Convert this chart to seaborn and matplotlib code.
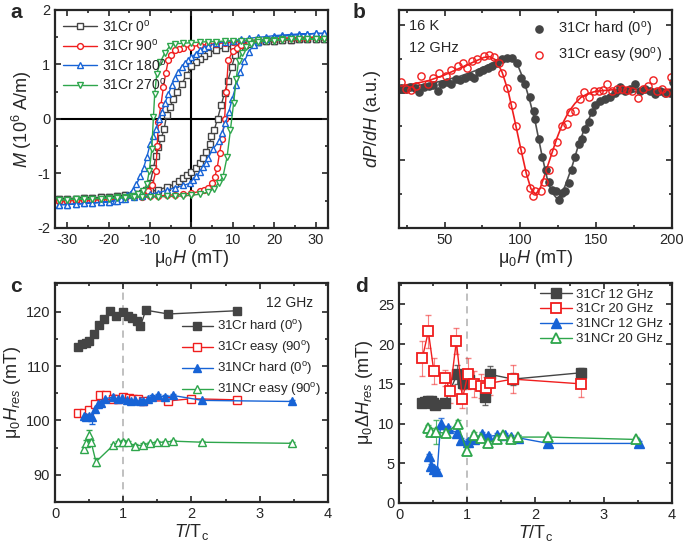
import numpy as np
import matplotlib
matplotlib.use("Agg")
import matplotlib.pyplot as plt
from matplotlib.ticker import MultipleLocator, NullFormatter
import seaborn as sns

sns.set_style("ticks")
plt.rcParams['font.family'] = ['Liberation Sans', 'DejaVu Sans']
plt.rcParams['mathtext.fontset'] = 'custom'
plt.rcParams['mathtext.rm'] = 'Liberation Sans'
plt.rcParams['mathtext.it'] = 'Liberation Sans:italic'
plt.rcParams['mathtext.bf'] = 'Liberation Sans:bold'
plt.rcParams['axes.unicode_minus'] = False

GRAY = "#444444"
RED = "#f01e1e"
BLUE = "#1763d6"
GREEN = "#2ea64c"

# ---------------- panel a : hysteresis loops ----------------
H0_down = [32, 30, 28, 26, 24, 22, 20, 18, 16, 14, 12, 10, 8, 6, 4, 3, 2, 1, 0, -1.2, -2.4, -3.6, -4.4, -5.2,
           -6, -6.6, -7.3, -8, -8.6, -9.2, -10, -11, -12, -14, -16, -18, -20, -22, -24, -26, -28, -30, -32]
M0_down = [1.47, 1.47, 1.46, 1.46, 1.45, 1.45, 1.44, 1.43, 1.42, 1.40, 1.37, 1.34, 1.31, 1.27, 1.21, 1.16, 1.10,
           1.04, 0.97, 0.80, 0.64, 0.50, 0.36, 0.22, 0.08, -0.18, -0.35, -0.52, -0.68, -0.90, -1.18, -1.30, -1.35,
           -1.38, -1.40, -1.42, -1.43, -1.44, -1.45, -1.45, -1.46, -1.46, -1.47]
H0_up = [-32, -30, -28, -26, -24, -22, -20, -18, -16, -14, -12, -10, -8, -6, -4, -3, -2, -1, 0, 1, 2, 2.8, 3.6,
         4.4, 4.8, 5.5, 6.3, 7.2, 8, 8.8, 9.7, 10.6, 11.5, 13, 14, 16, 18, 20, 22, 24, 26, 28, 30, 32]
M0_up = [-1.47, -1.46, -1.46, -1.45, -1.45, -1.44, -1.43, -1.42, -1.40, -1.38, -1.36, -1.33, -1.30, -1.25, -1.19,
         -1.14, -1.08, -1.02, -0.98, -0.90, -0.80, -0.72, -0.60, -0.45, -0.32, -0.20, 0.0, 0.26, 0.48, 0.70, 0.95,
         1.18, 1.30, 1.36, 1.37, 1.41, 1.43, 1.44, 1.45, 1.45, 1.46, 1.46, 1.47, 1.47]

H90_down = [32, 30, 28, 26, 24, 22, 20, 18, 16, 14, 12, 10, 8, 6, 4, 2, 0, -2, -3, -4, -5, -5.6, -6.2, -6.8, -7.4,
            -8, -8.3, -8.6, -9.5, -10.6, -12, -14, -16, -18, -20, -22, -24, -26, -28, -30, -32]
M90_down = [1.50, 1.50, 1.49, 1.49, 1.48, 1.48, 1.47, 1.46, 1.45, 1.44, 1.43, 1.41, 1.40, 1.38, 1.37, 1.35, 1.33,
            1.31, 1.29, 1.26, 1.18, 1.08, 0.85, 0.58, 0.25, -0.05, -0.50, -0.96, -1.22, -1.33, -1.38, -1.42, -1.44,
            -1.46, -1.47, -1.48, -1.48, -1.49, -1.49, -1.50, -1.50]
H90_up = [-32, -30, -28, -26, -24, -22, -20, -18, -16, -14, -12, -10, -8, -6, -4, -2, 0, 2, 3, 4, 5, 5.6, 6.2,
          6.8, 7.4, 8, 8.4, 8.9, 10, 11, 12, 14, 16, 18, 20, 22, 24, 26, 28, 30, 32]
M90_up = [-1.50, -1.50, -1.49, -1.49, -1.48, -1.48, -1.47, -1.46, -1.45, -1.44, -1.43, -1.42, -1.41, -1.40, -1.39,
          -1.38, -1.36, -1.33, -1.30, -1.26, -1.18, -1.07, -0.90, -0.62, -0.36, 0.0, 0.50, 1.08, 1.25, 1.31, 1.36,
          1.41, 1.44, 1.46, 1.47, 1.48, 1.48, 1.49, 1.49, 1.50, 1.50]

H180_down = [32, 30, 28, 26, 24, 22, 20, 18, 16, 14, 12, 10, 8, 6, 4, 3, 2, 1, 0, -0.8, -1.6, -2.4, -3.2, -4, -4.8,
             -5.6, -6.4, -7.2, -7.8, -8.6, -9.3, -10, -10.8, -11.6, -12.4, -13.3, -14.2, -15.5, -17, -18.5, -20,
             -22, -24, -26, -28, -30, -32]
M180_down = [1.57, 1.57, 1.56, 1.56, 1.55, 1.54, 1.53, 1.51, 1.50, 1.48, 1.46, 1.44, 1.42, 1.39, 1.34, 1.30, 1.27,
             1.20, 1.13, 1.08, 1.03, 0.95, 0.86, 0.75, 0.62, 0.45, 0.30, 0.12, 0.0, -0.18, -0.32, -0.46, -0.70,
             -0.90, -1.05, -1.20, -1.30, -1.40, -1.46, -1.50, -1.52, -1.53, -1.54, -1.55, -1.56, -1.57, -1.57]
H180_up = [-32, -30, -28, -26, -24, -22, -20, -18, -16, -14, -12, -10, -8, -6, -4, -2, -0.4, 0.4, 1.2, 2, 2.8, 3.4,
           4, 5.2, 6.6, 7.4, 8.2, 9, 9.8, 10.8, 11.8, 12.8, 13.8, 15, 16, 18, 20, 22, 24, 26, 28, 30, 32]
M180_up = [-1.57, -1.57, -1.56, -1.55, -1.54, -1.53, -1.52, -1.50, -1.47, -1.44, -1.41, -1.38, -1.35, -1.31, -1.26,
           -1.22, -1.18, -1.12, -1.05, -0.97, -0.88, -0.80, -0.71, -0.55, -0.41, -0.25, -0.08, 0.12, 0.36, 0.62,
           0.86, 1.06, 1.23, 1.35, 1.42, 1.47, 1.50, 1.52, 1.53, 1.55, 1.56, 1.57, 1.57]

H270_down = [32, 30, 28, 26, 24, 22, 20, 18, 16, 14, 12, 10, 8, 6, 4, 2, 0, -2, -4, -5.2, -6.4, -7.5, -8.4, -8.9,
             -9.2, -9.6, -10.2, -10.8, -11.8, -13, -14.5, -16, -18, -20, -22, -24, -26, -28, -30, -32]
M270_down = [1.47, 1.47, 1.47, 1.46, 1.46, 1.46, 1.45, 1.45, 1.45, 1.44, 1.44, 1.43, 1.43, 1.42, 1.42, 1.41, 1.40,
             1.39, 1.38, 1.34, 1.22, 1.05, 0.83, 0.45, 0.04, -0.55, -0.95, -1.20, -1.33, -1.38, -1.41, -1.43, -1.44,
             -1.45, -1.46, -1.46, -1.47, -1.47, -1.48, -1.48]
H270_up = [-32, -30, -28, -26, -24, -22, -20, -18, -16, -14, -12, -10, -8, -6, -4, -2, 0, 2, 4, 5.4, 6.6, 7.6,
           8.6, 9.4, 10.2, 10.8, 11.4, 12.2, 13.2, 14.5, 16, 18, 20, 22, 24, 26, 28, 30, 32]
M270_up = [-1.48, -1.48, -1.47, -1.47, -1.46, -1.46, -1.46, -1.45, -1.45, -1.44, -1.44, -1.43, -1.43, -1.42, -1.42,
           -1.41, -1.40, -1.38, -1.34, -1.28, -1.17, -1.06, -0.70, -0.21, 0.30, 0.73, 1.07, 1.22, 1.33, 1.38, 1.41,
           1.43, 1.44, 1.45, 1.46, 1.46, 1.47, 1.47, 1.47]

# ---------------- panel b : FMR spectra (16 K, 12 GHz) ----------------
H_hard = [21.3, 24.5, 27.5, 30.5, 33.5, 36.5, 39.5, 42.5, 45.5, 48.5, 51.5, 54.5, 57.5, 60.5, 63.5, 66.5, 69.5,
          72.5, 75.5, 78.5, 81.5, 84.8, 88.1, 91.4, 94.7, 98.0, 100.2, 103.4, 106.7, 108.9, 110.0, 112.2, 114.4,
          116.6, 118.8, 121.0, 123.2, 125.3, 127.6, 129.7, 131.9, 134.1, 136.3, 138.5, 140.8, 142.9, 145.1, 147.4,
          149.5, 152.8, 156.1, 159.3, 162.6, 165.9, 169.2, 172.4, 175.6, 178.9, 182.3, 185.5, 188.8, 192.0,
          195.2, 198.4, 200.9]
P_hard = [0.07, 0.06, 0.08, 0.07, 0.01, 0.08, 0.10, 0.11, 0.02, 0.13, 0.16, 0.12, 0.20, 0.18, 0.22, 0.25, 0.22,
          0.30, 0.33, 0.37, 0.40, 0.44, 0.50, 0.51, 0.51, 0.44, 0.22, 0.12, -0.07, -0.27, -0.39, -0.68, -0.95,
          -1.15, -1.32, -1.44, -1.45, -1.59, -1.49, -1.46, -1.34, -1.15, -0.95, -0.76, -0.68, -0.54, -0.44, -0.29,
          -0.19, -0.12, -0.10, -0.06, -0.01, 0.08, 0.02, 0.06, 0.12, 0.02, 0.06, 0.03, -0.02, 0.02, -0.01, 0.0, 0.15]
H_easy = [21.3, 24.6, 27.9, 31.2, 34.5, 38.9, 42.1, 46.5, 50.9, 54.2, 58.6, 61.9, 65.1, 68.4, 71.7, 76.0, 79.3,
          82.6, 85.9, 88.1, 91.4, 94.2, 96.9, 100.2, 103.4, 106.7, 108.5, 110.0, 113.3, 115.5, 118.8, 121.6, 124.3,
          127.6, 130.9, 133.0, 136.3, 139.2, 142.2, 145.1, 148.4, 151.7, 154.5, 157.2, 160.5, 163.7, 167.0, 170.3,
          173.6, 177.9, 181.2, 184.5, 187.4, 190.0, 193.3, 196.1, 199.2]
P_easy = [0.15, 0.05, 0.04, 0.10, 0.24, 0.13, 0.22, 0.29, 0.24, 0.34, 0.39, 0.44, 0.36, 0.46, 0.49, 0.54, 0.56,
          0.52, 0.44, 0.29, 0.07, -0.19, -0.49, -0.85, -1.19, -1.41, -1.53, -1.46, -1.46, -1.32, -1.14, -0.88,
          -0.73, -0.49, -0.46, -0.29, -0.27, -0.10, 0.01, -0.06, 0.02, 0.03, 0.04, 0.13, 0.03, 0.05, 0.06, 0.04,
          0.03, -0.08, 0.05, 0.10, 0.18, 0.03, 0.06, -0.01, 0.23]
H_fit_hard = [20, 30, 40, 50, 60, 70, 78, 85, 90, 94, 98, 102, 106, 110, 114, 118, 121, 124, 127, 130, 134, 138,
              142, 146, 150, 155, 160, 170, 180, 190, 200]
P_fit_hard = [0.08, 0.10, 0.13, 0.18, 0.24, 0.32, 0.40, 0.47, 0.50, 0.50, 0.42, 0.20, -0.10, -0.45, -0.90, -1.30,
              -1.48, -1.56, -1.52, -1.35, -1.10, -0.80, -0.55, -0.35, -0.20, -0.10, -0.04, 0.0, 0.02, 0.02, 0.03]
H_fit_easy = [20, 30, 40, 50, 60, 70, 76, 80, 84, 88, 92, 96, 100, 104, 107, 110, 113, 116, 120, 124, 128, 132,
              136, 140, 145, 150, 160, 170, 180, 190, 200]
P_fit_easy = [0.10, 0.13, 0.18, 0.26, 0.36, 0.46, 0.52, 0.53, 0.48, 0.30, 0.02, -0.38, -0.80, -1.20, -1.42, -1.50,
              -1.42, -1.22, -0.95, -0.68, -0.45, -0.28, -0.16, -0.07, -0.01, 0.02, 0.04, 0.05, 0.05, 0.05, 0.05]

# ---------------- panel c : resonance field vs T/Tc ----------------
T_cr_hard = [0.33, 0.39, 0.45, 0.5, 0.57, 0.64, 0.72, 0.8, 0.9, 0.99, 1.07, 1.13, 1.2, 1.25, 1.33, 1.66, 2.67]
Hr_cr_hard = [113.6, 114.0, 114.3, 114.7, 115.9, 117.6, 118.7, 120.2, 119.2, 119.9, 119.3, 118.9, 118.3, 117.3,
              120.3, 119.6, 120.2]
T_cr_easy = [0.33, 0.42, 0.5, 0.58, 0.66, 0.74, 0.85, 0.93, 1.0, 1.08, 1.15, 1.22, 1.29, 1.66, 2.0, 2.67]
Hr_cr_easy = [101.4, 101.3, 101.9, 103.0, 104.6, 104.6, 104.0, 103.9, 104.3, 104.2, 104.0, 103.9, 103.6, 103.6,
              104.0, 103.8]
T_ncr_hard = [0.42, 0.46, 0.5, 0.54, 0.59, 0.63, 0.68, 0.73, 0.85, 0.92, 0.98, 1.05, 1.12, 1.17, 1.24, 1.29, 1.36,
              1.42, 1.51, 1.61, 1.73, 2.16, 3.47]
Hr_ncr_hard = [100.9, 100.6, 100.8, 100.6, 102.1, 103.1, 103.2, 104.0, 104.3, 103.9, 104.1, 103.7, 103.6, 103.7,
               103.5, 103.5, 104.0, 104.3, 104.6, 104.3, 104.6, 103.7, 103.5]
T_ncr_easy = [0.42, 0.46, 0.5, 0.53, 0.6, 0.85, 0.93, 1.0, 1.07, 1.17, 1.29, 1.39, 1.49, 1.61, 1.73, 2.16, 3.47]
Hr_ncr_easy = [94.8, 95.9, 97.3, 96.0, 92.4, 95.4, 96.0, 96.1, 96.0, 95.3, 95.5, 95.8, 96.0, 96.0, 96.2, 96.0, 95.8]
err_ncr_hard = [0.3, 0.3, 0.4, 1.3, 0.4, 0.3, 0.3, 0.3, 0.3, 0.3, 0.3, 0.3, 0.3, 0.3, 0.3, 0.3, 0.3, 0.3, 0.3,
                0.3, 0.3, 0.3, 0.3]
err_ncr_easy = [0.4, 0.5, 1.0, 0.5, 0.7, 0.3, 0.3, 0.4, 0.3, 0.3, 0.3, 0.3, 0.3, 0.3, 0.3, 0.3, 0.3]

# ---------------- panel d : linewidth vs T/Tc ----------------
T_cr12 = [0.33, 0.38, 0.43, 0.47, 0.5, 0.53, 0.67, 0.85, 0.94, 1.02, 1.26, 1.33, 1.67, 2.67]
W_cr12 = [12.6, 12.7, 12.9, 12.9, 12.6, 12.4, 12.6, 16.2, 15.1, 15.5, 13.4, 16.2, 15.6, 16.4]
err_cr12 = [0.5, 0.5, 0.5, 0.5, 0.5, 0.5, 0.5, 1.2, 0.8, 0.8, 1.0, 1.0, 0.8, 0.6]
T_cr20 = [0.34, 0.43, 0.51, 0.68, 0.75, 0.84, 0.93, 1.01, 1.1, 1.2, 1.27, 1.34, 1.67, 2.67]
W_cr20 = [18.2, 21.6, 16.6, 15.7, 14.1, 20.4, 13.1, 16.3, 15.0, 14.7, 14.5, 15.1, 15.6, 15.0]
err_cr20 = [2.2, 2.1, 1.6, 1.0, 1.5, 1.6, 1.2, 1.9, 1.6, 1.5, 1.4, 1.5, 1.8, 1.6]
T_ncr12 = [0.44, 0.47, 0.52, 0.56, 0.61, 0.72, 0.85, 0.91, 1.01, 1.1, 1.22, 1.31, 1.43, 1.55, 1.64, 1.75, 2.19, 3.51]
W_ncr12 = [5.9, 4.6, 4.3, 4.0, 10.0, 9.4, 8.8, 7.9, 7.7, 8.0, 8.7, 8.4, 8.5, 8.5, 8.3, 8.2, 7.5, 7.5]
err_ncr12 = [0.3, 0.3, 0.3, 0.3, 0.7, 0.3, 0.3, 0.3, 0.3, 0.3, 0.3, 0.3, 0.3, 0.3, 0.3, 0.3, 0.3, 0.3]
T_ncr20 = [0.43, 0.47, 0.54, 0.69, 0.86, 0.99, 1.1, 1.2, 1.3, 1.43, 1.53, 1.64, 1.75, 2.19, 3.47]
W_ncr20 = [9.4, 9.0, 8.9, 8.8, 10.0, 6.6, 8.6, 8.2, 7.6, 8.0, 8.5, 8.0, 8.3, 8.3, 8.0]
err_ncr20 = [0.4, 0.4, 1.5, 0.4, 0.4, 0.4, 0.3, 0.3, 0.3, 0.3, 0.3, 0.3, 0.3, 0.3, 0.3]


def series(ax, x, y, color, marker, filled, label, ms, lw=1.0, ls='-', mew=1.0, open_fc='white'):
    sns.lineplot(x=x, y=y, ax=ax, color=color, marker=marker, markersize=ms,
                 markerfacecolor=color if filled else open_fc, markeredgecolor=color,
                 markeredgewidth=mew, linewidth=lw, linestyle=ls, label=label,
                 sort=False, estimator=None, legend=False)


def style(ax, xmaj, xmin, ymaj, ymin):
    ax.xaxis.set_major_locator(MultipleLocator(xmaj))
    ax.xaxis.set_minor_locator(MultipleLocator(xmin))
    ax.yaxis.set_major_locator(MultipleLocator(ymaj))
    ax.yaxis.set_minor_locator(MultipleLocator(ymin))
    ax.tick_params(which='both', direction='in', top=True, right=True, width=1.2, labelsize=10.5)
    ax.tick_params(which='major', length=4.5)
    ax.tick_params(which='minor', length=2.5)
    for s in ax.spines.values():
        s.set_linewidth(1.6)


fig = plt.figure(figsize=(6.85, 5.49), dpi=100)
ax_a = fig.add_axes([0.0803, 0.5847, 0.3985, 0.3971])
ax_b = fig.add_axes([0.5825, 0.5847, 0.3985, 0.3971])
ax_c = fig.add_axes([0.0803, 0.0856, 0.3985, 0.3989])
ax_d = fig.add_axes([0.5825, 0.0838, 0.3985, 0.4007])

# ---- a ----
ax_a.axhline(0, color='black', lw=1.5, zorder=0)
ax_a.axvline(0, color='black', lw=1.5, zorder=0)
series(ax_a, H0_down + H0_up, M0_down + M0_up, GRAY, 's', False, r"31Cr 0$^\mathrm{o}$", 3.8)
series(ax_a, H90_down + H90_up, M90_down + M90_up, RED, 'o', False, r"31Cr 90$^\mathrm{o}$", 4.2)
series(ax_a, H180_down + H180_up, M180_down + M180_up, BLUE, '^', False, r"31Cr 180$^\mathrm{o}$", 4.5)
series(ax_a, H270_down + H270_up, M270_down + M270_up, GREEN, 'v', False, r"31Cr 270$^\mathrm{o}$", 4.5)
ax_a.set_xlim(-33, 33)
ax_a.set_ylim(-2, 2)
style(ax_a, 10, 5, 1, 0.5)
ax_a.set_xlabel(r"μ$_0$$H$ (mT)", fontsize=13, labelpad=1)
ax_a.set_ylabel(r"$M$ (10$^6$ A/m)", fontsize=13, labelpad=2)
ax_a.legend(loc='upper left', bbox_to_anchor=(0.0, 1.0), frameon=False, fontsize=10,
            handlelength=2.4, handletextpad=0.4, labelspacing=0.25, borderaxespad=0.4, borderpad=0.2)

# ---- b ----
series(ax_b, H_fit_hard, P_fit_hard, "#505050", None, True, None, 0, lw=1.2)
series(ax_b, H_fit_easy, P_fit_easy, RED, None, True, None, 0, lw=1.2)
series(ax_b, H_hard, P_hard, GRAY, 'o', True, r"31Cr hard (0$^\mathrm{o}$)", 5.2, ls='none')
series(ax_b, H_easy, P_easy, RED, 'o', False, r"31Cr easy (90$^\mathrm{o}$)", 5.2, ls='none', open_fc='none')
ax_b.set_xlim(20, 200)
ax_b.set_ylim(-2, 1.22)
style(ax_b, 50, 25, 1, 0.5)
ax_b.yaxis.set_major_formatter(NullFormatter())
ax_b.set_xlabel(r"μ$_0$$H$ (mT)", fontsize=13, labelpad=1)
ax_b.set_ylabel(r"$dP/dH$ (a.u.)", fontsize=13, labelpad=8)
ax_b.text(0.035, 0.925, "16 K", transform=ax_b.transAxes, fontsize=10.5, va='center')
ax_b.text(0.035, 0.825, "12 GHz", transform=ax_b.transAxes, fontsize=10.5, va='center')
handles = [h for h in ax_b.get_lines() if not h.get_label().startswith('_')]
ax_b.legend(handles=handles[-2:], loc='upper right', bbox_to_anchor=(1.0, 1.0), frameon=False, fontsize=10.5,
            handlelength=1.2, handletextpad=0.7, labelspacing=0.5, borderaxespad=0.3)

# ---- c ----
ax_c.axvline(1, color='#bbbbbb', lw=1.3, ls=(0, (4, 3)), zorder=0)
ax_c.errorbar(T_ncr_hard, Hr_ncr_hard, yerr=err_ncr_hard, fmt='none', ecolor=BLUE, elinewidth=0.9, capsize=2)
ax_c.errorbar(T_ncr_easy, Hr_ncr_easy, yerr=err_ncr_easy, fmt='none', ecolor=GREEN, elinewidth=0.9, capsize=2)
series(ax_c, T_cr_hard, Hr_cr_hard, GRAY, 's', True, r"31Cr hard (0$^\mathrm{o}$)", 5.5)
series(ax_c, T_cr_easy, Hr_cr_easy, RED, 's', False, r"31Cr easy (90$^\mathrm{o}$)", 5.5)
series(ax_c, T_ncr_hard, Hr_ncr_hard, BLUE, '^', True, r"31NCr hard (0$^\mathrm{o}$)", 6.0)
series(ax_c, T_ncr_easy, Hr_ncr_easy, GREEN, '^', False, r"31NCr easy (90$^\mathrm{o}$)", 6.0)
ax_c.set_xlim(0, 4)
ax_c.set_ylim(85, 125.3)
style(ax_c, 1, 0.5, 10, 5)
ax_c.set_xlabel(r"$T$/T$_\mathrm{c}$", fontsize=13, labelpad=1)
ax_c.set_ylabel(r"μ$_0$$H_{res}$ (mT)", fontsize=13, labelpad=2)
ax_c.text(0.945, 0.91, "12 GHz", transform=ax_c.transAxes, fontsize=10, ha='right', va='center')
ax_c.legend(loc='upper right', bbox_to_anchor=(0.985, 0.85), frameon=False, fontsize=9.5,
            handlelength=2.4, handletextpad=0.3, labelspacing=0.3, borderaxespad=0.0, borderpad=0.2)

# ---- d ----
ax_d.axvline(1, color='#bbbbbb', lw=1.3, ls=(0, (4, 3)), zorder=0)
ax_d.errorbar(T_cr12, W_cr12, yerr=err_cr12, fmt='none', ecolor=GRAY, elinewidth=0.8, capsize=2, alpha=0.8)
ax_d.errorbar(T_cr20, W_cr20, yerr=err_cr20, fmt='none', ecolor=RED, elinewidth=0.8, capsize=2, alpha=0.55)
ax_d.errorbar(T_ncr12, W_ncr12, yerr=err_ncr12, fmt='none', ecolor=BLUE, elinewidth=0.8, capsize=2, alpha=0.8)
ax_d.errorbar(T_ncr20, W_ncr20, yerr=err_ncr20, fmt='none', ecolor=GREEN, elinewidth=0.8, capsize=2, alpha=0.8)
series(ax_d, T_cr12, W_cr12, GRAY, 's', True, "31Cr 12 GHz", 6.5)
series(ax_d, T_cr20, W_cr20, RED, 's', False, "31Cr 20 GHz", 6.5, mew=1.3)
series(ax_d, T_ncr12, W_ncr12, BLUE, '^', True, "31NCr 12 GHz", 7.0)
series(ax_d, T_ncr20, W_ncr20, GREEN, '^', False, "31NCr 20 GHz", 7.0, mew=1.3)
ax_d.set_xlim(0, 4)
ax_d.set_ylim(0, 27.7)
style(ax_d, 1, 0.5, 5, 2.5)
ax_d.set_xlabel(r"$T$/T$_\mathrm{c}$", fontsize=13, labelpad=1)
ax_d.set_ylabel(r"μ$_0$Δ$H_{res}$ (mT)", fontsize=13, labelpad=2)
ax_d.legend(loc='upper right', bbox_to_anchor=(0.985, 1.0), frameon=False, fontsize=9.5,
            handlelength=2.4, handletextpad=0.3, labelspacing=0.2, borderaxespad=0.2, borderpad=0.2)

# panel letters
for lab, x, y in [("a", 10, 18), ("b", 353, 18), ("c", 10, 292), ("d", 355, 292)]:
    fig.text(x / 685, 1 - y / 549, lab, fontsize=15, fontweight='bold', va='baseline')

fig.savefig("out.png", dpi=100)
